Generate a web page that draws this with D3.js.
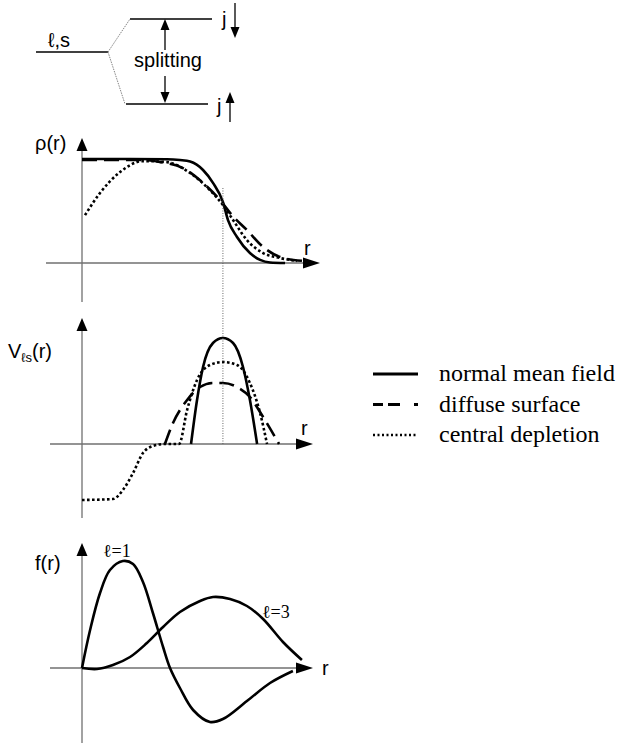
<!DOCTYPE html>
<html>
<head>
<meta charset="utf-8">
<script src="https://cdn.jsdelivr.net/npm/d3@7"></script>
<style>
  body { margin: 0; background: #fff; }
  text { fill: #000; }
  .sans { font-family: "Liberation Sans", Arial, sans-serif; }
  .serif { font-family: "Liberation Serif", "Times New Roman", serif; }
</style>
</head>
<body>
<svg id="fig" width="618" height="743"></svg>
<script>
// ---- data: radial profiles, r in arbitrary units (surface at rSurface) ----
const rSurface = 6.1;

// density rho(r)
const rhoNormal = [[0,1],[2.08,1],[3.68,0.998],[4.24,0.99],[4.68,0.975],[5.24,0.894],[5.67,0.77],[6.1,0.587],[6.32,0.413],[6.71,0.25],[7.27,0.096],[7.71,0.03],[8.14,0.005],[8.79,0]];
const rhoDiffuse = [[0,0.99],[2.64,0.99],[3.38,0.97],[4.37,0.913],[5.24,0.77],[5.97,0.606],[6.49,0.46],[7.14,0.317],[7.84,0.154],[8.57,0.058],[9.57,0.02]];
const rhoDepleted = [[0.13,0.46],[0.78,0.673],[1.65,0.875],[2.64,0.98],[3.68,0.97],[4.68,0.865],[5.54,0.70],[6.1,0.558],[6.54,0.413],[7.14,0.22],[7.84,0.096],[8.57,0.048],[9.31,0.02]];

// spin-orbit potential V_ls(r)
const vNormal = [[4.72,0],[4.98,0.44],[5.24,0.77],[5.67,1.01],[6.1,1.06],[6.54,1.01],[6.97,0.77],[7.27,0.44],[7.58,0]];
const vDiffuse = [[3.59,0],[3.94,0.21],[4.55,0.44],[5.11,0.57],[5.67,0.61],[6.1,0.61],[6.71,0.57],[7.27,0.47],[7.84,0.27],[8.53,0]];
const vDepleted = [[0,-0.56],[1.34,-0.55],[1.77,-0.46],[2.21,-0.29],[2.64,-0.09],[3.07,-0.02],[3.59,0],[4.2,0],[4.55,0.34],[4.98,0.64],[5.54,0.79],[6.1,0.82],[6.71,0.79],[7.27,0.61],[7.71,0.31],[8.01,0]];

// radial wave functions f(r)
const fL1 = [[0,0],[0.35,0.38],[0.78,0.75],[1.21,0.98],[1.77,1.07],[2.21,1.04],[2.64,0.86],[3.07,0.55],[3.51,0.21],[3.81,0],[4.24,-0.2],[4.81,-0.42],[5.54,-0.54],[6.1,-0.51],[7.14,-0.33],[8.14,-0.15],[9.13,-0.03]];
const fL3 = [[0,0],[0.65,-0.01],[1.34,0.03],[2.08,0.11],[2.81,0.25],[3.51,0.41],[4.24,0.56],[5.11,0.67],[5.67,0.71],[6.41,0.69],[7.14,0.62],[7.84,0.49],[8.7,0.26],[9.52,0.08]];

const legendLabels = ["normal mean field", "diffuse surface", "central depletion"];

// ---- drawing ----
const svg = d3.select("#fig");
const x = d3.scaleLinear().domain([0, 10]).range([82, 313]);

const styles = {
  normal:   { dash: null },
  diffuse:  { dash: "15,7" },
  depleted: { dash: "2.6,2.4" }
};

function panel(cfg) {
  const y = d3.scaleLinear().domain([0, 1]).range([cfg.y0, cfg.y0 - cfg.unit]);
  const g = svg.append("g");
  const axisColor = "#707070";
  // axes
  g.append("line").attr("x1", cfg.xLeft).attr("x2", cfg.xTip - 12)
    .attr("y1", y(0)).attr("y2", y(0)).attr("stroke", axisColor).attr("stroke-width", 1.3);
  g.append("line").attr("x1", x(0)).attr("x2", x(0))
    .attr("y1", cfg.yTop + 12).attr("y2", cfg.yBottom).attr("stroke", axisColor).attr("stroke-width", 1.3);
  // arrow heads
  g.append("path").attr("d", `M${cfg.xTip},${y(0)} L${cfg.xTip - 17},${y(0) - 5.5} L${cfg.xTip - 17},${y(0) + 5.5} Z`).attr("fill", "#000");
  g.append("path").attr("d", `M${x(0)},${cfg.yTop} L${x(0) - 5.5},${cfg.yTop + 13} L${x(0) + 5.5},${cfg.yTop + 13} Z`).attr("fill", "#000");
  const line = d3.line().x(d => x(d[0])).y(d => y(d[1])).curve(cfg.curve || d3.curveMonotoneX);
  cfg.series.forEach(s => {
    g.append("path").datum(s.data).attr("d", line)
      .attr("fill", "none").attr("stroke", "#000").attr("stroke-width", 2.6)
      .attr("stroke-dasharray", styles[s.kind].dash)
      .attr("stroke-linejoin", "round");
  });
  return { g, y };
}

const rho = panel({ y0: 263, unit: 104, yTop: 138, yBottom: 302, xLeft: 46, xTip: 320,
  series: [{ data: rhoDepleted, kind: "depleted" }, { data: rhoDiffuse, kind: "diffuse" }, { data: rhoNormal, kind: "normal" }] });
const vls = panel({ y0: 444, unit: 100, yTop: 318, yBottom: 518, xLeft: 50, xTip: 313,
  series: [{ data: vDepleted, kind: "depleted" }, { data: vDiffuse, kind: "diffuse" }, { data: vNormal, kind: "normal" }] });
const fr = panel({ y0: 668, unit: 100, yTop: 543, yBottom: 743, xLeft: 50, xTip: 313,
  curve: d3.curveCatmullRom.alpha(0.5),
  series: [{ data: fL1, kind: "normal" }, { data: fL3, kind: "normal" }] });

// surface marker linking density and potential
svg.append("line").attr("x1", x(rSurface)).attr("x2", x(rSurface))
  .attr("y1", 188).attr("y2", vls.y(0))
  .attr("stroke", "#555").attr("stroke-width", 0.9).attr("stroke-dasharray", "1,1.5");

// axis labels
svg.append("text").attr("class", "sans").attr("x", 35).attr("y", 150).attr("font-size", 20).text("ρ(r)");
svg.append("text").attr("class", "sans").attr("x", 304).attr("y", 255).attr("font-size", 20).text("r");
const vl = svg.append("text").attr("class", "sans").attr("x", 8).attr("y", 358).attr("font-size", 20);
vl.append("tspan").text("V");
vl.append("tspan").attr("font-size", 13).attr("dy", 4).text("ℓs");
vl.append("tspan").attr("dy", -4).text("(r)");
svg.append("text").attr("class", "sans").attr("x", 301).attr("y", 435).attr("font-size", 20).text("r");
svg.append("text").attr("class", "sans").attr("x", 35).attr("y", 570).attr("font-size", 20).text("f(r)");
svg.append("text").attr("class", "sans").attr("x", 322).attr("y", 675).attr("font-size", 20).text("r");
svg.append("text").attr("class", "serif").attr("x", 103).attr("y", 557).attr("font-size", 18).text("ℓ=1");
svg.append("text").attr("class", "serif").attr("x", 262).attr("y", 618).attr("font-size", 18).text("ℓ=3");

// legend
const legendDash = ["", "10,5,12,14,4", "2,2.5"];
legendLabels.forEach((lab, i) => {
  const by = 381 + i * 30.5;
  svg.append("line").attr("x1", 373).attr("x2", 418).attr("y1", by - 7).attr("y2", by - 7)
    .attr("stroke", "#000").attr("stroke-width", i === 2 ? 2.4 : 3)
    .attr("stroke-dasharray", legendDash[i] || null);
  svg.append("text").attr("class", "serif").attr("x", 439).attr("y", by).attr("font-size", 24).text(lab);
});

// level-splitting scheme
const scheme = svg.append("g").attr("stroke", "#000").attr("stroke-width", 1.3);
scheme.append("line").attr("x1", 36).attr("x2", 108).attr("y1", 52).attr("y2", 52);
scheme.append("line").attr("x1", 130).attr("x2", 212).attr("y1", 19).attr("y2", 19);
scheme.append("line").attr("x1", 126).attr("x2", 208).attr("y1", 104).attr("y2", 104);
scheme.append("line").attr("x1", 108).attr("y1", 52).attr("x2", 130).attr("y2", 19)
  .attr("stroke", "#777").attr("stroke-width", 0.9).attr("stroke-dasharray", "1.5,1");
scheme.append("line").attr("x1", 108).attr("y1", 52).attr("x2", 125).attr("y2", 104)
  .attr("stroke", "#777").attr("stroke-width", 0.9).attr("stroke-dasharray", "1.5,1");
scheme.append("line").attr("x1", 165).attr("x2", 165).attr("y1", 28).attr("y2", 50);
scheme.append("line").attr("x1", 165).attr("x2", 165).attr("y1", 76).attr("y2", 95);
scheme.append("line").attr("x1", 235).attr("x2", 235).attr("y1", 3).attr("y2", 30);
scheme.append("line").attr("x1", 230).attr("x2", 230).attr("y1", 101).attr("y2", 122);
const tri = (cx, tip, dir) => `M${cx},${tip} L${cx - 4.5},${tip - dir * 11} L${cx + 4.5},${tip - dir * 11} Z`;
svg.append("path").attr("d", tri(165, 19, -1)).attr("fill", "#000");
svg.append("path").attr("d", tri(165, 103, 1)).attr("fill", "#000");
svg.append("path").attr("d", tri(235, 38, 1)).attr("fill", "#000");
svg.append("path").attr("d", tri(230, 92, -1)).attr("fill", "#000");
svg.append("text").attr("class", "sans").attr("x", 48).attr("y", 47).attr("font-size", 20).text("ℓ,s");
svg.append("text").attr("class", "sans").attr("x", 168).attr("y", 67).attr("font-size", 20).attr("text-anchor", "middle").text("splitting");
svg.append("text").attr("class", "sans").attr("x", 222).attr("y", 26).attr("font-size", 20).text("j");
svg.append("text").attr("class", "sans").attr("x", 217).attr("y", 113).attr("font-size", 20).text("j");
</script>
</body>
</html>
